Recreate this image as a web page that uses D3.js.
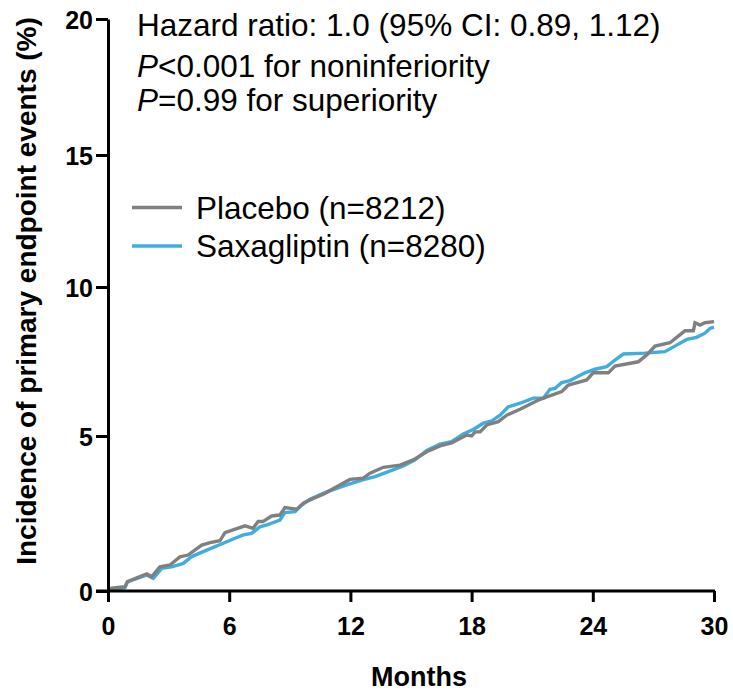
<!DOCTYPE html>
<html><head><meta charset="utf-8">
<script src="https://cdn.jsdelivr.net/npm/d3@7"></script>
<style>body{margin:0;background:#fff}svg{display:block}text{font-family:"Liberation Sans",Arial,sans-serif}</style>
</head><body>
<svg id="c" width="733" height="693"></svg>
<script>
const xTicks = [0, 6, 12, 18, 24, 30];
const yTicks = [0, 5, 10, 15, 20];
const seriesNames = ["Placebo (n=8212)", "Saxagliptin (n=8280)"];
const placeboMonths = [0,0.18,0.84,0.96,1.92,2.16,2.57,3.07,3.56,3.96,4.64,5.05,5.54,5.79,6.78,7.18,7.43,7.67,8.1,8.51,8.76,9.34,9.67,10.0,10.74,11.32,11.98,12.64,12.97,13.63,14.46,15.11,15.78,16.44,17.01,17.76,18.0,18.17,18.42,18.75,19.32,19.74,20.4,21.39,22.46,22.79,23.7,24.02,24.77,25.1,26.25,26.67,27.08,27.82,28.56,28.98,29.06,29.31,29.55,30];
const placeboValues = [0,0.09,0.14,0.3,0.55,0.46,0.78,0.84,1.1,1.16,1.48,1.56,1.62,1.88,2.1,2.02,2.24,2.24,2.42,2.45,2.69,2.64,2.83,2.94,3.15,3.36,3.6,3.64,3.8,3.99,4.06,4.23,4.49,4.68,4.78,5.03,5.0,5.14,5.14,5.37,5.48,5.7,5.9,6.23,6.49,6.71,6.88,7.12,7.12,7.35,7.49,7.72,8.02,8.13,8.53,8.53,8.8,8.72,8.8,8.84];
const saxaMonths = [0,0.18,0.84,0.96,1.92,2.24,2.66,3.15,3.73,4.14,4.89,5.88,6.29,6.7,7.11,7.52,7.86,8.51,8.76,9.26,9.59,10.0,10.83,11.82,12.56,13.22,13.88,14.62,15.2,15.78,16.44,17.01,17.59,18.08,18.58,19.0,19.41,19.82,20.4,21.05,21.55,21.88,22.13,22.46,22.87,23.61,24.11,24.69,25.1,25.51,26.58,27.57,28.15,28.65,29.14,29.55,29.8,30];
const saxaValues = [0,0.05,0.11,0.29,0.52,0.41,0.73,0.78,0.89,1.11,1.32,1.59,1.7,1.81,1.86,2.07,2.13,2.29,2.53,2.56,2.77,2.96,3.2,3.42,3.58,3.69,3.85,4.03,4.23,4.53,4.74,4.82,5.07,5.22,5.43,5.51,5.7,5.98,6.1,6.27,6.27,6.57,6.6,6.79,6.86,7.12,7.24,7.33,7.55,7.75,7.78,7.83,8.05,8.24,8.31,8.45,8.61,8.65];
const annotationLines = ["Hazard ratio: 1.0 (95% CI: 0.89, 1.12)", "<0.001 for noninferiority", "=0.99 for superiority"];

const svg = d3.select("#c");
const x = d3.scaleLinear().domain([0, 30]).range([108, 714]);
const y = d3.scaleLinear().domain(yTicks).range([591, 436, 287, 155, 19]);

const placebo = placeboMonths.map((m, i) => [m, placeboValues[i]]);
const saxa = saxaMonths.map((m, i) => [m, saxaValues[i]]);
const line = d3.line().x(d => x(d[0])).y(d => y(d[1]));

svg.append("path").datum(saxa).attr("d", line).attr("fill", "none")
  .attr("stroke", "#3fade0").attr("stroke-width", 3.4).attr("stroke-linejoin", "miter");
svg.append("path").datum(placebo).attr("d", line).attr("fill", "none")
  .attr("stroke", "#808080").attr("stroke-width", 3.4).attr("stroke-linejoin", "miter");

// axes
const xAxis = svg.append("g").attr("transform", "translate(0,591)")
  .call(d3.axisBottom(x).tickValues(xTicks).tickSize(11).tickSizeOuter(0).tickPadding(15));
const yAxis = svg.append("g").attr("transform", "translate(108,0)")
  .call(d3.axisLeft(y).tickValues(yTicks).tickSize(12).tickSizeOuter(0).tickPadding(3));
[xAxis, yAxis].forEach(g => {
  g.select(".domain").attr("stroke", "#000").attr("stroke-width", 3);
  g.selectAll(".tick line").attr("stroke", "#000").attr("stroke-width", 3);
  g.selectAll(".tick text").attr("fill", "#000").attr("font-size", 25).attr("font-weight", "bold")
    .style("font-family", '"Liberation Sans",Arial,sans-serif');
});
xAxis.select(".domain").attr("d", "M96,0H715");
yAxis.selectAll(".tick text").attr("dy", "0.36em");

svg.append("text").attr("x", 419).attr("y", 686).attr("text-anchor", "middle")
  .attr("font-size", 27).attr("font-weight", "bold").text("Months");
svg.append("text").attr("transform", "translate(36,291) rotate(-90)").attr("text-anchor", "middle")
  .attr("font-size", 28).attr("font-weight", "bold").text("Incidence of primary endpoint events (%)");

// annotation
const fs = 31.5;
svg.append("text").attr("x", 137).attr("y", 36).attr("font-size", fs).attr("fill", "#000").text(annotationLines[0]);
const t2 = svg.append("text").attr("x", 137).attr("y", 77).attr("font-size", fs).attr("fill", "#000");
t2.append("tspan").attr("font-style", "italic").text("P");
t2.append("tspan").text(annotationLines[1]);
const t3 = svg.append("text").attr("x", 137).attr("y", 111).attr("font-size", fs).attr("fill", "#000");
t3.append("tspan").attr("font-style", "italic").text("P");
t3.append("tspan").text(annotationLines[2]);

// legend
const legColors = ["#808080", "#3fade0"];
seriesNames.forEach((n, i) => {
  const ly = 207.5 + i * 38.5;
  svg.append("line").attr("x1", 132).attr("x2", 182).attr("y1", ly).attr("y2", ly)
    .attr("stroke", legColors[i]).attr("stroke-width", 3.4);
  svg.append("text").attr("x", 196).attr("y", ly).attr("dy", "0.36em").attr("font-size", fs).attr("fill", "#000").text(n);
});
</script>
</body></html>
